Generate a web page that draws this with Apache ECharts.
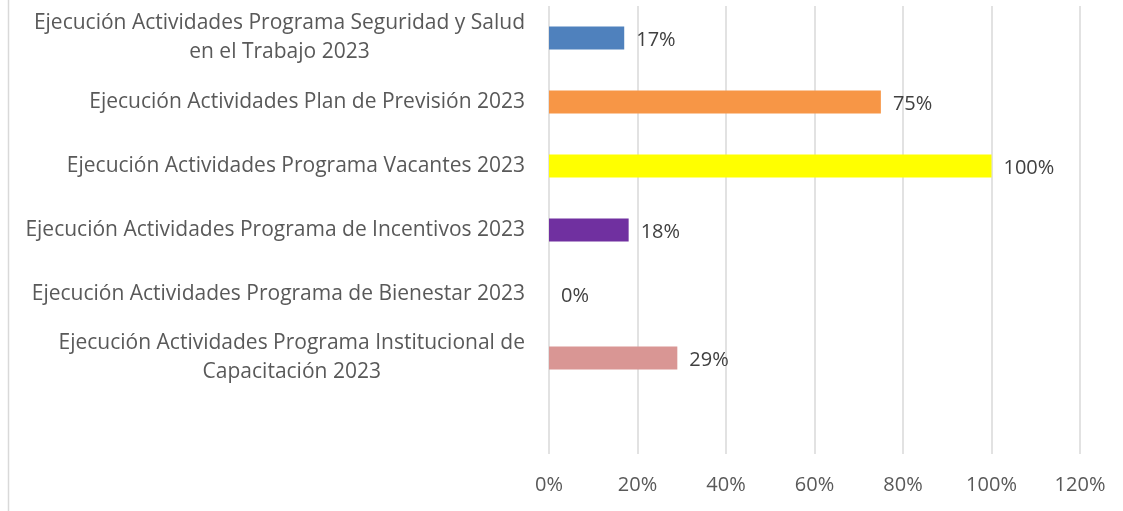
<!DOCTYPE html>
<html>
<head>
<meta charset="utf-8">
<script src="https://cdn.jsdelivr.net/npm/echarts@6/dist/echarts.min.js"></script>
<style>
  html, body { margin: 0; padding: 0; background: #fff; }
  #chart { width: 1123px; height: 511px; }
</style>
</head>
<body>
<div id="chart"></div>
<script>
// categorías de arriba hacia abajo (la última queda vacía, como en el original)
const categories = [
  "Ejecución Actividades Programa Seguridad y Salud\nen el Trabajo 2023",
  "Ejecución Actividades Plan de Previsión 2023",
  "Ejecución Actividades Programa Vacantes 2023",
  "Ejecución Actividades Programa de Incentivos 2023",
  "Ejecución Actividades Programa de Bienestar 2023",
  "Ejecución Actividades Programa Institucional de\nCapacitación 2023",
  ""
];
const values = [17, 75, 100, 18, 0, 29, null];
const barColors = ["#4F81BD", "#F79646", "#FFFF00", "#7030A0", "#A5A5A5", "#D99694", "#FFFFFF"];
const xTicks = [0, 20, 40, 60, 80, 100, 120];

const font = "'Open Sans', sans-serif";

const chart = echarts.init(document.getElementById("chart"));
chart.setOption({
  animation: false,
  textStyle: { fontFamily: font },
  grid: { left: 549, right: 43, top: 6, bottom: 57, containLabel: false },
  graphic: [
    {
      type: "line",
      shape: { x1: 8.5, y1: 0, x2: 8.5, y2: 511 },
      style: { stroke: "#d9d9d9", lineWidth: 1.5 }
    }
  ],
  xAxis: {
    type: "value",
    min: xTicks[0],
    max: xTicks[xTicks.length - 1],
    interval: 20,
    axisLine: { show: false },
    axisTick: { show: false },
    splitLine: { lineStyle: { color: "#d9d9d9", width: 1.5 } },
    axisLabel: {
      color: "#595959",
      fontSize: 20,
      fontFamily: font,
      margin: 21,
      formatter: (v) => v + "%"
    }
  },
  yAxis: {
    type: "category",
    inverse: true,
    data: categories,
    axisLine: { show: false },
    axisTick: { show: false },
    axisLabel: {
      margin: 24,
      formatter: (v) => v.split("\n").map((s) => "{c|" + s + "}").join("\n"),
      rich: {
        c: {
          color: "#595959",
          fontSize: 21,
          fontFamily: font,
          align: "center",
          lineHeight: 29
        }
      }
    }
  },
  series: [
    {
      type: "bar",
      barWidth: "36%",
      data: values.map((v, i) => ({ value: v, itemStyle: { color: barColors[i] } })),
      label: {
        show: true,
        position: "right",
        distance: 12,
        offset: [0, 2],
        color: "#404040",
        fontSize: 20,
        fontFamily: font,
        formatter: (p) => (p.value == null ? "" : p.value + "%")
      }
    }
  ]
});
</script>
</body>
</html>
